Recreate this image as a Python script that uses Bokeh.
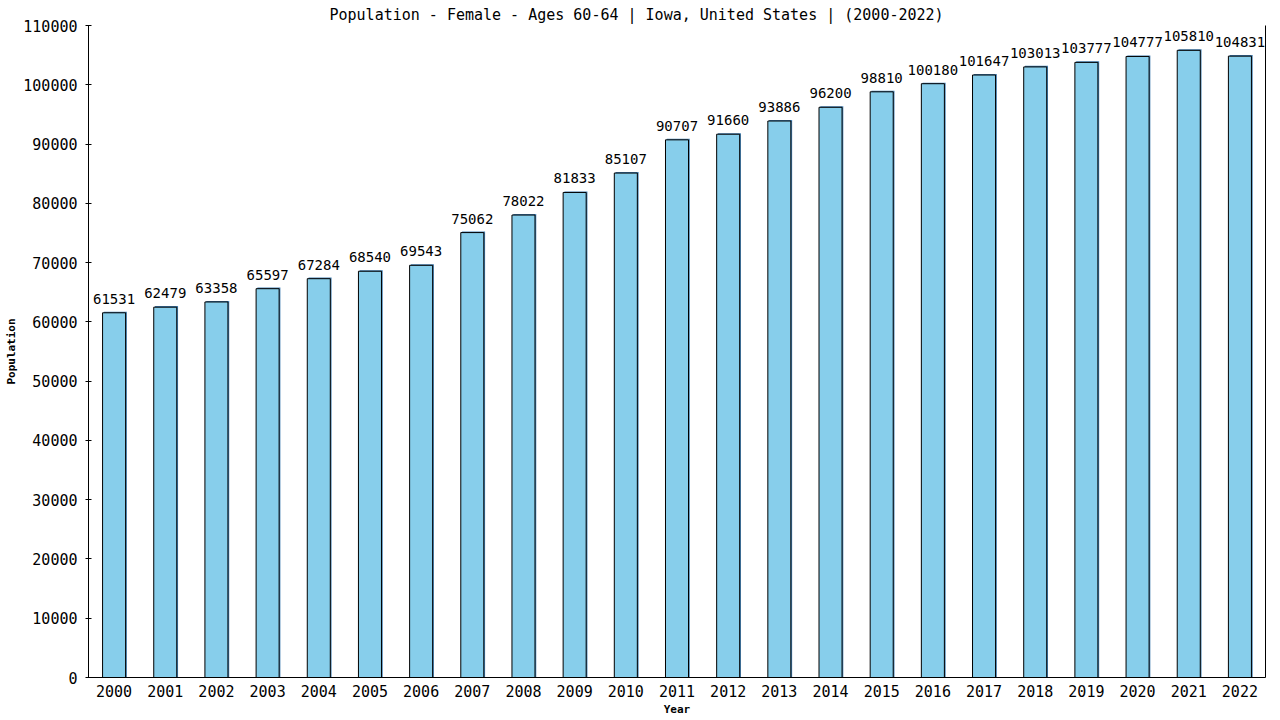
from bokeh.plotting import figure
from bokeh.models import ColumnDataSource, FactorRange, LinearAxis, FixedTicker, NumeralTickFormatter
from bokeh.transform import dodge
from bokeh.core.properties import value
from bokeh.embed import file_html
from bokeh.resources import INLINE

years = [str(y) for y in range(2000, 2023)]
population = [61531, 62479, 63358, 65597, 67284, 68540, 69543, 75062, 78022, 81833,
              85107, 90707, 91660, 93886, 96200, 98810, 100180, 101647, 103013, 103777,
              104777, 105810, 104831]
y_ticks = list(range(0, 110001, 10000))
title_text = "Population - Female - Ages 60-64 | Iowa, United States |  (2000-2022)"

FONT = "DejaVu Sans Mono"

src = ColumnDataSource(dict(year=years, pop=population, lab=[str(v) for v in population]))

p = figure(x_range=FactorRange(*years), y_range=(0, 110000),
           width=1280, height=720, output_backend="svg", toolbar_location=None,
           min_border_left=88, min_border_top=25, min_border_right=15, min_border_bottom=43)
p.outline_line_color = None
p.grid.visible = False
p.background_fill_color = "white"
p.border_fill_color = "white"

p.title.text = title_text
p.title.align = "left"
p.title.offset = 241
p.title.standoff = 3
p.title.text_font = FONT
p.title.text_font_size = "15px"
p.title.text_font_style = "normal"
p.title.text_color = "black"

# shadow
p.vbar(x=dodge("year", 0.025, range=p.x_range), top=dodge("pop", 180), width=0.45, bottom=0,
       source=src, fill_color="#4682B4", line_color=None)
p.vbar(x="year", top="pop", width=0.45, bottom=0, source=src,
       fill_color="#87CEEB", line_color="black", line_width=1)
p.text(x="year", y="pop", text="lab", source=src, text_align="center", text_baseline="bottom",
       y_offset=-9, text_font=value(FONT), text_font_size="14px", text_color="black")

p.yaxis.ticker = FixedTicker(ticks=y_ticks)
p.yaxis.formatter = NumeralTickFormatter(format="0")
p.yaxis.major_tick_in = 3
p.yaxis.major_tick_out = 3
p.yaxis.minor_tick_line_color = None
p.yaxis.major_label_standoff = 8
p.yaxis.axis_label = "Population"
p.yaxis.axis_label_standoff = 2

p.xaxis.major_tick_in = 0
p.xaxis.major_tick_out = 0
p.xaxis.major_label_standoff = 7
p.xaxis.axis_label = "Year"
p.xaxis.axis_label_standoff = 3

for ax in (p.xaxis[0], p.yaxis[0]):
    ax.axis_line_color = "black"
    ax.major_tick_line_color = "black"
    ax.major_label_text_font = FONT
    ax.major_label_text_font_size = "15px"
    ax.major_label_text_color = "black"
    ax.axis_label_text_font = FONT
    ax.axis_label_text_font_size = "11px"
    ax.axis_label_text_font_style = "bold"
    ax.axis_label_text_color = "black"

right = LinearAxis(ticker=FixedTicker(ticks=[]), major_tick_in=0, major_tick_out=0,
                   minor_tick_in=0, minor_tick_out=0, axis_line_color="black",
                   major_label_standoff=0)
p.add_layout(right, "right")

open("out.html", "w").write(file_html(p, INLINE))
